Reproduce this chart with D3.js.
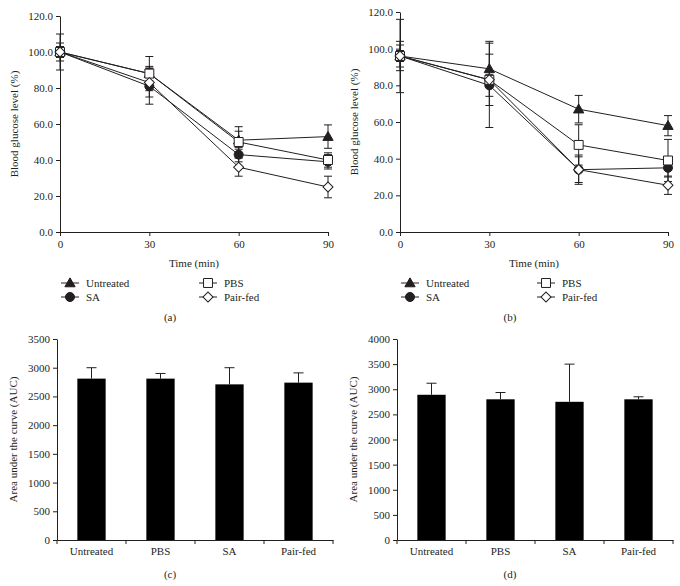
<!DOCTYPE html>
<html><head><meta charset="utf-8">
<script src="https://cdn.jsdelivr.net/npm/d3@7/dist/d3.min.js"></script>
<style>
body{margin:0;background:#fff}
text{font-family:"Liberation Serif","Times New Roman",serif;font-size:11px;fill:#231f20}
</style>
</head><body>
<svg id="chart" width="680" height="586"></svg>
<script>
// ---------- data ----------
const times = [0, 30, 60, 90];
const yTicksLine = [0, 20, 40, 60, 80, 100, 120];
const groupNames = ["Untreated", "SA", "PBS", "Pair-fed"];
const groupSymbols = ["triangle", "circle", "square", "diamond"];

// panel (a)
const aUntreated = [100, 88, 51, 53];
const aUntreatedErr = [3, 4, 5, 6.5];
const aSA = [100, 81, 43, 39];
const aSAErr = [10, 10, 4, 4];
const aPBS = [100, 88, 50, 40];
const aPBSErr = [3, 9.5, 8.5, 4];
const aPairFed = [100, 83, 36, 25];
const aPairFedErr = [5, 8, 5, 6];

// panel (b)
const bUntreated = [96, 89, 67, 58];
const bUntreatedErr = [20, 15, 7.5, 5.5];
const bSA = [96, 80, 34, 35];
const bSAErr = [8, 23, 8, 5];
const bPBS = [96, 83, 47.5, 39];
const bPBSErr = [6, 14, 11, 11.5];
const bPairFed = [96, 83, 34, 25.5];
const bPairFedErr = [3, 3, 7, 5];

// panels (c), (d)
const barCategories = ["Untreated", "PBS", "SA", "Pair-fed"];
const cAUC = [2810, 2810, 2710, 2740];
const cAUCErr = [190, 90, 290, 170];
const cTicks = [0, 500, 1000, 1500, 2000, 2500, 3000, 3500];
const dAUC = [2890, 2800, 2750, 2800];
const dAUCErr = [230, 135, 750, 50];
const dTicks = [0, 500, 1000, 1500, 2000, 2500, 3000, 3500, 4000];

// ---------- helpers ----------
const svg = d3.select("#chart");
const ink = "#231f20";

function symbolPath(kind) {
  if (kind === "triangle") return d3.symbol(d3.symbolTriangle, 46)();
  if (kind === "circle") return d3.symbol(d3.symbolCircle, 64)();
  if (kind === "square") return d3.symbol(d3.symbolSquare, 80)();
  return d3.symbol(d3.symbolSquare, 50)();
}
function drawMarker(g, kind, x, y) {
  const filled = kind === "triangle" || kind === "circle";
  g.append("path")
    .attr("d", symbolPath(kind))
    .attr("transform", `translate(${x},${y})` + (kind === "diamond" ? " rotate(45)" : "") + (kind === "triangle" ? " translate(0,0.8)" : ""))
    .attr("fill", filled ? ink : "#fff")
    .attr("stroke", ink)
    .attr("stroke-width", 1);
}

function lineChart(cfg) {
  const g = svg.append("g");
  const x = d3.scaleLinear().domain([0, 90]).range([cfg.x0, cfg.x1]);
  const y = d3.scaleLinear().domain([0, 120]).range([cfg.yBottom, cfg.yTop]);

  const ya = g.append("g").attr("transform", `translate(${cfg.x0},0)`)
    .call(d3.axisLeft(y).tickValues(yTicksLine).tickFormat(d3.format(".1f")).tickSize(4).tickSizeOuter(0).tickPadding(3));
  const xa = g.append("g").attr("transform", `translate(0,${cfg.yBottom})`)
    .call(d3.axisBottom(x).tickValues(times).tickSize(4).tickSizeOuter(0).tickPadding(4));
  [ya, xa].forEach(a => {
    a.selectAll("path,line").attr("stroke", ink);
    a.selectAll("text").attr("font-size", 11).attr("font-family", null).attr("fill", ink);
  });

  g.append("text").attr("transform", `translate(${cfg.titleX},${(cfg.yTop + cfg.yBottom) / 2}) rotate(-90)`)
    .attr("text-anchor", "middle").attr("dy", "0.35em").text("Blood glucose level (%)");
  g.append("text").attr("x", (cfg.x0 + cfg.x1) / 2 - 0).attr("y", 263).attr("text-anchor", "middle").attr("dy", "0.35em").text("Time (min)");

  const line = d3.line().x((d, i) => x(times[i])).y(d => y(d));
  cfg.series.forEach(s => {
    g.append("path").attr("d", line(s.v)).attr("fill", "none").attr("stroke", ink).attr("stroke-width", 1);
  });
  cfg.series.forEach(s => {
    s.v.forEach((v, i) => {
      const cx = x(times[i]);
      const t = y(v + s.e[i]), b = y(v - s.e[i]);
      g.append("line").attr("x1", cx).attr("x2", cx).attr("y1", t).attr("y2", b).attr("stroke", ink).attr("stroke-width", 1);
      [t, b].forEach(yy => g.append("line").attr("x1", cx - 4).attr("x2", cx + 4).attr("y1", yy).attr("y2", yy).attr("stroke", ink).attr("stroke-width", 1));
    });
  });
  cfg.series.forEach(s => {
    s.v.forEach((v, i) => drawMarker(g, s.sym, x(times[i]), y(v)));
  });

  // legend
  const legendPos = [
    [cfg.legX1, 283], [cfg.legX1, 297], [cfg.legX2, 283], [cfg.legX2, 297]
  ];
  groupNames.forEach((name, i) => {
    const [lx, ly] = legendPos[i];
    g.append("line").attr("x1", lx - 9).attr("x2", lx + 9).attr("y1", ly).attr("y2", ly).attr("stroke", ink);
    drawMarker(g, groupSymbols[i], lx, ly);
    g.append("text").attr("x", lx + 16).attr("y", ly).attr("dy", "0.35em").text(name);
  });
  g.append("text").attr("x", cfg.labelX).attr("y", 317).attr("text-anchor", "middle").attr("dy", "0.35em").text(cfg.label);
}

function barChart(cfg) {
  const g = svg.append("g");
  const x = d3.scaleBand().domain(barCategories).range([cfg.x0, cfg.x1]).paddingInner(0.59).paddingOuter(0.295);
  const y = d3.scaleLinear().domain([0, cfg.yMax]).range([cfg.yBottom, cfg.yTop]);
  const ya = g.append("g").attr("transform", `translate(${cfg.x0},0)`)
    .call(d3.axisLeft(y).tickValues(cfg.ticks).tickFormat(d3.format("d")).tickSize(4).tickSizeOuter(0).tickPadding(3));
  const xa = g.append("g").attr("transform", `translate(0,${cfg.yBottom})`)
    .call(d3.axisBottom(x).tickSize(0).tickSizeOuter(0).tickPadding(7));
  [ya, xa].forEach(a => {
    a.selectAll("path,line").attr("stroke", ink);
    a.selectAll("text").attr("font-size", 11).attr("font-family", null).attr("fill", ink);
  });
  // boundary ticks
  const step = x.step();
  d3.range(barCategories.length + 1).forEach(i => {
    const bx = cfg.x0 + i * step;
    g.append("line").attr("x1", bx).attr("x2", bx).attr("y1", cfg.yBottom).attr("y2", cfg.yBottom + 4).attr("stroke", ink);
  });
  g.selectAll(".bar").data(cfg.values).join("rect")
    .attr("x", (d, i) => x(barCategories[i])).attr("width", x.bandwidth())
    .attr("y", d => y(d)).attr("height", d => y(0) - y(d)).attr("fill", "#000");
  cfg.values.forEach((v, i) => {
    const cx = x(barCategories[i]) + x.bandwidth() / 2;
    const t = y(v + cfg.err[i]);
    g.append("line").attr("x1", cx).attr("x2", cx).attr("y1", y(v)).attr("y2", t).attr("stroke", ink);
    g.append("line").attr("x1", cx - 5).attr("x2", cx + 5).attr("y1", t).attr("y2", t).attr("stroke", ink);
  });
  g.append("text").attr("transform", `translate(${cfg.titleX},${(cfg.yTop + cfg.yBottom) / 2}) rotate(-90)`)
    .attr("text-anchor", "middle").attr("dy", "0.35em").text("Area under the curve (AUC)");
  g.append("text").attr("x", cfg.labelX).attr("y", 574).attr("text-anchor", "middle").attr("dy", "0.35em").text(cfg.label);
}

lineChart({x0: 60, x1: 328, yTop: 16, yBottom: 232, titleX: 14, legX1: 70, legX2: 208, labelX: 170, label: "(a)",
  series: [
    {v: aUntreated, e: aUntreatedErr, sym: "triangle"},
    {v: aSA, e: aSAErr, sym: "circle"},
    {v: aPBS, e: aPBSErr, sym: "square"},
    {v: aPairFed, e: aPairFedErr, sym: "diamond"}
  ]});
lineChart({x0: 400, x1: 668, yTop: 12, yBottom: 232, titleX: 354, legX1: 410, legX2: 546, labelX: 510, label: "(b)",
  series: [
    {v: bUntreated, e: bUntreatedErr, sym: "triangle"},
    {v: bSA, e: bSAErr, sym: "circle"},
    {v: bPBS, e: bPBSErr, sym: "square"},
    {v: bPairFed, e: bPairFedErr, sym: "diamond"}
  ]});
barChart({x0: 57, x1: 333, yTop: 339, yBottom: 540, yMax: 3500, ticks: cTicks, values: cAUC, err: cAUCErr, titleX: 13, labelX: 170, label: "(c)"});
barChart({x0: 397, x1: 673, yTop: 339, yBottom: 540, yMax: 4000, ticks: dTicks, values: dAUC, err: dAUCErr, titleX: 353, labelX: 510, label: "(d)"});
</script>
</body></html>
